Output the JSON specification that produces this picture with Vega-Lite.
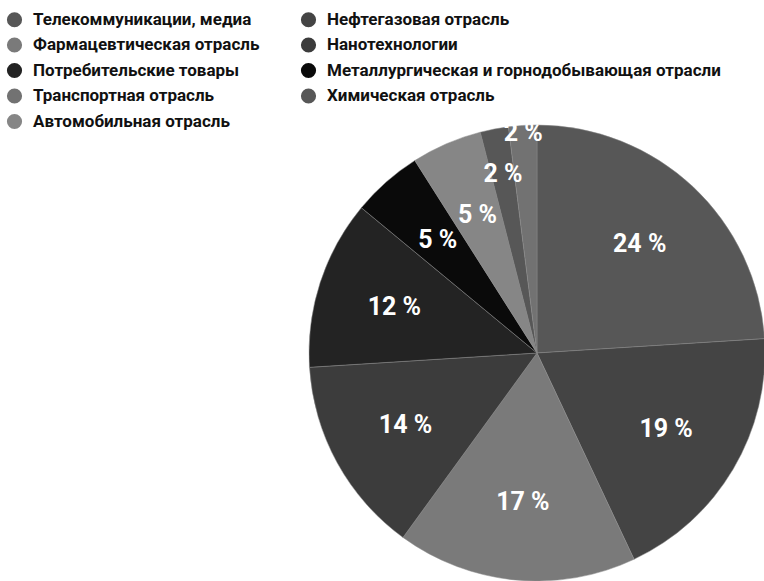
{
  "$schema": "https://vega.github.io/schema/vega-lite/v6.json",
  "autosize": "none",
  "width": 456,
  "height": 456,
  "padding": {"left": 309, "top": 125, "right": 0, "bottom": 0},
  "background": "white",
  "config": {"view": {"stroke": null}},
  "data": {
    "values": [
      {"sector": "Телекоммуникации, медиа", "value": 24, "label": "24 %"},
      {"sector": "Нефтегазовая отрасль", "value": 19, "label": "19 %"},
      {"sector": "Фармацевтическая отрасль", "value": 17, "label": "17 %"},
      {"sector": "Нанотехнологии", "value": 14, "label": "14 %"},
      {"sector": "Потребительские товары", "value": 12, "label": "12 %"},
      {"sector": "Металлургическая и горнодобывающая отрасли", "value": 5, "label": "5 %"},
      {"sector": "Автомобильная отрасль", "value": 5, "label": "5 %"},
      {"sector": "Химическая отрасль", "value": 2, "label": "2 %"},
      {"sector": "Транспортная отрасль", "value": 2, "label": "2 %"}
    ]
  },
  "encoding": {
    "theta": {"field": "value", "type": "quantitative", "stack": true},
    "order": {"field": "value", "type": "quantitative", "sort": "descending"}
  },
  "layer": [
    {
      "mark": {"type": "arc", "radius": 228, "stroke": "#8a8a8a", "strokeWidth": 0.5},
      "encoding": {
        "color": {
          "field": "sector",
          "type": "nominal",
          "scale": {
            "domain": ["Телекоммуникации, медиа", "Фармацевтическая отрасль", "Потребительские товары", "Транспортная отрасль", "Автомобильная отрасль", "Нефтегазовая отрасль", "Нанотехнологии", "Металлургическая и горнодобывающая отрасли", "Химическая отрасль"],
            "range": ["#575757", "#7a7a7a", "#232323", "#727272", "#868686", "#444444", "#3c3c3c", "#0a0a0a", "#575757"]
          },
          "legend": {
            "title": null,
            "orient": "none",
            "legendX": -303,
            "legendY": -114,
            "columns": 2,
            "columnPadding": 40,
            "rowPadding": 7.5,
            "padding": 0,
            "symbolType": "circle",
            "symbolSize": 230,
            "symbolStrokeWidth": 0,
            "labelFont": "Roboto",
            "labelFontWeight": "bold",
            "labelFontSize": 17,
            "labelColor": "#111111",
            "labelOffset": 10,
            "labelLimit": 500
          }
        }
      }
    },
    {
      "mark": {"type": "text", "radius": 150, "font": "Roboto", "fontWeight": "bold", "fontSize": 25, "fill": "white"},
      "encoding": {
        "text": {"condition": {"test": "datum.value >= 5", "field": "label"}, "value": ""}
      }
    },
    {
      "mark": {"type": "text", "radius": 182, "font": "Roboto", "fontWeight": "bold", "fontSize": 25, "fill": "white"},
      "encoding": {
        "text": {"condition": {"test": "datum.sector === 'Химическая отрасль'", "field": "label"}, "value": ""}
      }
    },
    {
      "mark": {"type": "text", "radius": 220, "font": "Roboto", "fontWeight": "bold", "fontSize": 25, "fill": "white"},
      "encoding": {
        "text": {"condition": {"test": "datum.sector === 'Транспортная отрасль'", "field": "label"}, "value": ""}
      }
    }
  ]
}
